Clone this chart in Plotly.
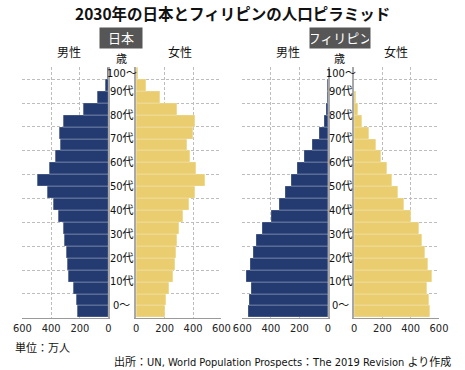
import plotly.graph_objects as go

# Age groups (index 0 = 0-4 ... 20 = 100+)
age_groups = ["0-4", "5-9", "10-14", "15-19", "20-24", "25-29", "30-34", "35-39",
              "40-44", "45-49", "50-54", "55-59", "60-64", "65-69", "70-74",
              "75-79", "80-84", "85-89", "90-94", "95-99", "100+"]

# Population (万人)
japan_male = [215, 226, 246, 278, 289, 296, 309, 313, 349, 387, 423, 495,
              414, 367, 334, 340, 311, 175, 74, 22, 7]
japan_female = [203, 212, 232, 262, 273, 280, 291, 302, 334, 372, 413, 483,
                422, 381, 359, 399, 415, 289, 167, 70, 16]
phil_male = [560, 548, 537, 573, 544, 521, 499, 463, 398, 344, 301, 254,
             211, 162, 110, 63, 27, 12, 4, 1, 0]
phil_female = [534, 528, 514, 550, 523, 500, 482, 457, 401, 351, 312, 272,
               235, 192, 154, 104, 59, 30, 12, 3, 1]

# Age label text and the age-group index they sit at
age_labels = ["0〜", "10代", "20代", "30代", "40代", "50代", "60代", "70代", "80代", "90代", "100〜"]
age_label_pos = [0.5, 2.5, 4.5, 6.5, 8.5, 10.5, 12.5, 14.5, 16.5, 18.5, 20]

x_ticks = [0, 200, 400, 600]

NAVY = "#243b72"
YELLOW = "#e9cd6e"
FONT = "DejaVu Sans Condensed, Noto Sans CJK JP, sans-serif"
JFONT = "Noto Sans CJK JP, sans-serif"
W, H = 465, 370

ypos = list(range(len(age_groups)))

fig = go.Figure()
panels = [
    ("x", "y", japan_male, NAVY),
    ("x2", "y2", japan_female, YELLOW),
    ("x3", "y3", phil_male, NAVY),
    ("x4", "y4", phil_female, YELLOW),
]
for xa, ya, vals, col in panels:
    fig.add_trace(go.Bar(
        x=vals, y=ypos, orientation="h", width=1,
        marker=dict(color=col, line=dict(color="rgba(255,255,255,0.45)", width=0.6)),
        xaxis=xa, yaxis=ya, showlegend=False, hoverinfo="x+y",
    ))

ydom = [52.3 / H, 302.7 / H]
xdoms = [
    [14 / W, 103.5 / W],
    [132.3 / W, 221 / W],
    [242.7 / W, 331.7 / W],
    [359 / W, 447.3 / W],
]

grid_y = [1.5, 3.5, 5.5, 7.5, 9.5, 11.5, 13.5, 15.5, 17.5, 19.5, 20.5]

layout = dict(
    width=W, height=H,
    margin=dict(l=0, r=0, t=0, b=0),
    paper_bgcolor="white", plot_bgcolor="white",
    bargap=0,
    font=dict(family=FONT, size=11, color="#222"),
)
for i, dom in enumerate(xdoms):
    n = "" if i == 0 else str(i + 1)
    male = i in (0, 2)
    layout["xaxis" + n] = dict(
        domain=dom, anchor="y" + n,
        range=[600, 0] if male else [0, 600],
        tickvals=x_ticks, ticktext=[str(v) for v in x_ticks],
        showgrid=True, gridcolor="#bdbdbd", griddash="3px,2px", gridwidth=1,
        zeroline=False, showline=True, linecolor="#9a9a9a", linewidth=1,
        ticks="", tickfont=dict(size=11, color="#222", family=FONT),
        fixedrange=True,
    )
    layout["yaxis" + n] = dict(
        domain=ydom, anchor="x" + n,
        range=[-0.5, 20.5],
        tickvals=grid_y, showticklabels=False, ticks="",
        showgrid=True, gridcolor="#bdbdbd", griddash="3px,2px", gridwidth=1,
        zeroline=False, showline=True, linecolor="#a8a8a8", linewidth=2,
        side="right" if male else "left",
        fixedrange=True,
    )

fig.update_layout(**layout)

ann = []
# age labels
for cx, ya in ((117.5 / W, "y"), (345 / W, "y3")):
    for lab, p in zip(age_labels, age_label_pos):
        ann.append(dict(x=cx, xref="paper", y=p, yref=ya, text=lab, showarrow=False,
                        font=dict(size=11, color="#111", family=FONT),
                        xanchor="center", yanchor="middle"))


def txt(x, y, text, size=12, color="#111", family=FONT, **kw):
    d = dict(x=x / W, y=1 - y / H, xref="paper", yref="paper", text=text,
             showarrow=False, font=dict(size=size, color=color, family=family),
             xanchor="center", yanchor="middle")
    d.update(kw)
    return d


ann.append(txt(232, 13, "<b>2030年の日本とフィリピンの人口ピラミッド</b>", size=15.5, family=JFONT))
ann.append(txt(117, 38, "日本", size=13, color="white", bgcolor="#565656", width=40, height=18))
ann.append(txt(344, 38, "フィリピン", size=13, color="white", bgcolor="#565656", width=58, height=18))
ann.append(txt(62, 53, "男性", size=12))
ann.append(txt(177.5, 53, "女性", size=12))
ann.append(txt(290.5, 53, "男性", size=12))
ann.append(txt(402.5, 53, "女性", size=12))
ann.append(txt(117, 59, "歳", size=11))
ann.append(txt(344, 59, "歳", size=11))
ann.append(txt(4, 348, "単位：万人", size=11, xanchor="left"))
ann.append(txt(462, 362, "出所：UN, World Population Prospects：The 2019 Revision より作成",
               size=11, xanchor="right"))

fig.update_layout(annotations=ann)
fig.write_html(
    "out.html",
    config={"displayModeBar": False},
    post_script="document.body.style.margin='0';document.body.style.overflow='hidden';",
)
